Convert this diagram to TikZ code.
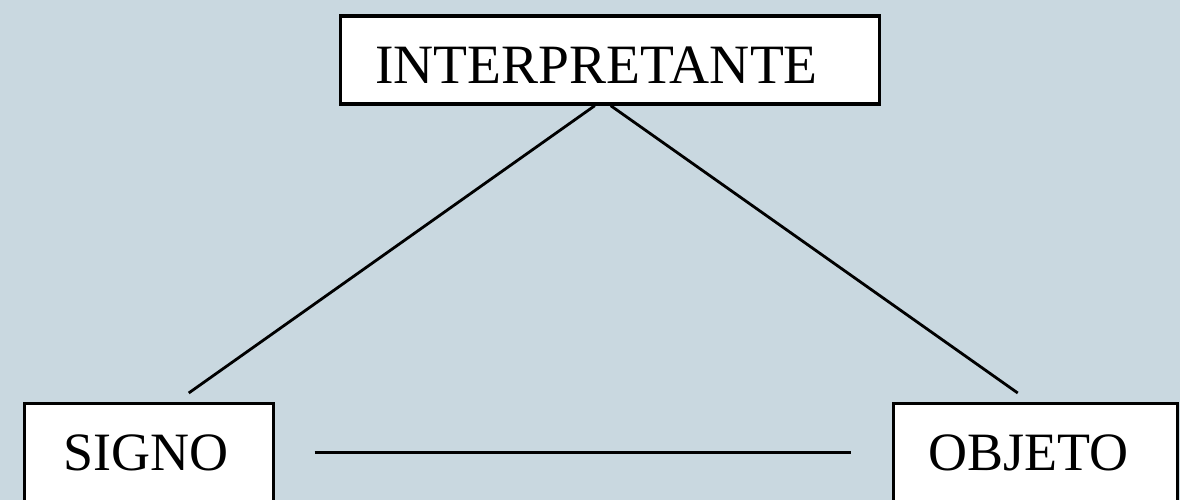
\documentclass[tikz,border=0pt]{standalone}
\usepackage{fontspec}
\setmainfont{Liberation Serif}
\usetikzlibrary{positioning}
\definecolor{fondo}{RGB}{201,216,224}

\begin{document}
\begin{tikzpicture}[x=1pt,y=-1pt,
  caja/.style={draw=black,line width=3.5pt,fill=white,anchor=north west,
    align=left,inner ysep=0pt,text height=67.5pt,
    font=\fontsize{54}{60}\selectfont},
  linea/.style={black,line width=2.8pt}]
  \fill[fondo] (0,0) rectangle (1180,500);
  \useasboundingbox (0,0) rectangle (1180,500);

  \node[caja,inner xsep=35pt,text width=469pt,text depth=20.5pt,font=\fontsize{55.5}{60}\selectfont] (interp) at (338.5,14.2) {INTERPRETANTE};
  \node[caja,inner xsep=39pt,text width=171pt,text depth=60pt] (signo) at (22.5,401.5) {SIGNO};
  \node[caja,inner xsep=35pt,text width=214pt,text depth=60pt] (objeto) at (891.5,401.5) {OBJETO};

  \draw[linea] ([xshift=-15pt]interp.south) -- ([shift={(40pt,8.5pt)}]signo.north);
  \draw[linea] ([xshift=1pt]interp.south) -- ([shift={(-17.5pt,8.5pt)}]objeto.north);
  \draw[linea] ([shift={(39.5pt,18pt)}]signo.base east) -- ([shift={(-40.5pt,18pt)}]objeto.base west);
\end{tikzpicture}
\end{document}
